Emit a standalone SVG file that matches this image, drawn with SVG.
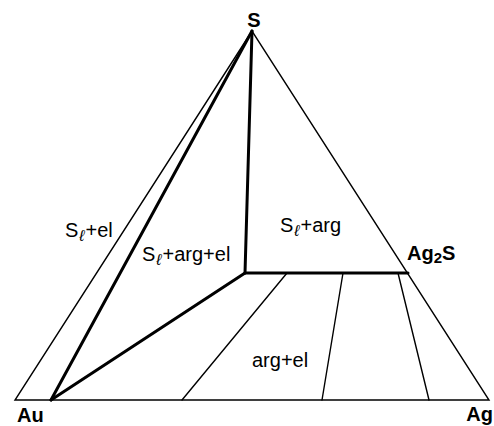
<svg xmlns="http://www.w3.org/2000/svg" width="494" height="426" viewBox="0 0 494 426">
<style>
.thin{stroke:#000;stroke-width:1.4;fill:none;stroke-linecap:round}
.thick{stroke:#000;stroke-width:3;fill:none;stroke-linecap:round;stroke-linejoin:round}
.lbl{font-family:"Liberation Sans",Arial,sans-serif;font-size:20px;fill:#000}
.b{font-weight:bold}
.sub{font-size:16px;font-style:italic}
</style>
<rect width="494" height="426" fill="#fff"/>
<g id="connectors">
<polygon class="thin" points="252,31 15,400 489,400"/>
<line class="thin" x1="287" y1="273" x2="182" y2="400"/>
<line class="thin" x1="343" y1="273" x2="322" y2="400"/>
<line class="thin" x1="398" y1="273" x2="429" y2="400"/>
<line class="thick" x1="252" y1="31" x2="51" y2="400"/>
<line class="thick" x1="252" y1="31" x2="245" y2="273"/>
<line class="thick" x1="245" y1="273" x2="408" y2="273"/>
<line class="thick" x1="245" y1="273" x2="51" y2="400"/>
</g>
<g id="node-S"><text class="lbl b" x="254" y="27" text-anchor="middle">S</text></g>
<g id="node-Au"><text class="lbl b" x="17" y="422">Au</text></g>
<g id="node-Ag"><text class="lbl b" x="493" y="421" text-anchor="end">Ag</text></g>
<g id="node-Ag2S"><text class="lbl b" x="407" y="260">Ag<tspan font-size="15" dy="3">2</tspan><tspan dy="-3">S</tspan></text></g>
<g id="region-Sl-el"><text class="lbl" x="65" y="237">S<tspan class="sub" dx="1" dy="4">ℓ</tspan><tspan dx="1" dy="-4">+el</tspan></text></g>
<g id="region-Sl-arg-el"><text class="lbl" x="142" y="261">S<tspan class="sub" dx="1" dy="4">ℓ</tspan><tspan dx="1" dy="-4">+arg+el</tspan></text></g>
<g id="region-Sl-arg"><text class="lbl" x="280" y="232">S<tspan class="sub" dx="1" dy="4">ℓ</tspan><tspan dx="1" dy="-4">+arg</tspan></text></g>
<g id="region-arg-el"><text class="lbl" x="252" y="367">arg+el</text></g>
</svg>
